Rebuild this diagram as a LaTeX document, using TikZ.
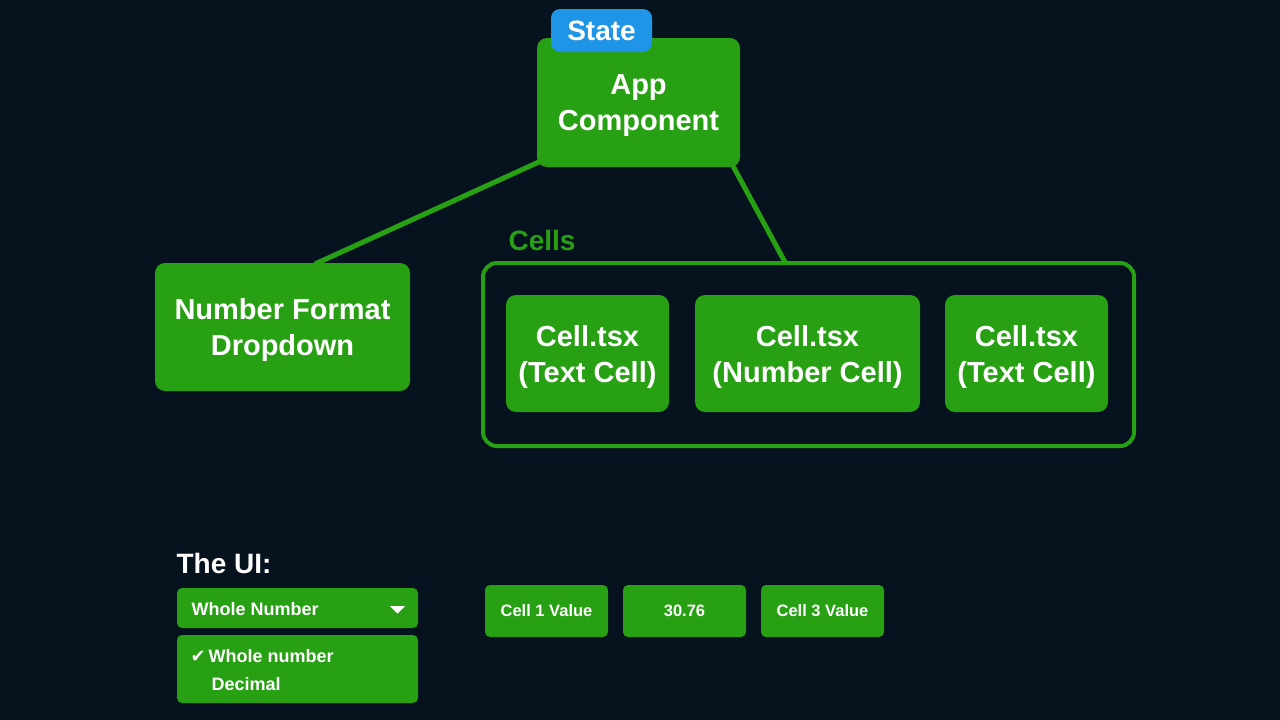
\documentclass[tikz,border=0pt]{standalone}
\usepackage{fontspec}
\setmainfont{Liberation Sans}
\newfontfamily\symfont{DejaVu Sans}
\usepackage{xcolor}
\usetikzlibrary{arrows.meta,positioning}
\definecolor{bgnavy}{HTML}{06131F}
\definecolor{boxgreen}{HTML}{27A013}
\definecolor{tagblue}{HTML}{1E95E6}

\begin{document}
\begin{tikzpicture}[x=1pt, y=-1pt,
        block/.style={fill=boxgreen, rounded corners=10pt, text=white,
            font=\bfseries\fontsize{29}{36}\selectfont, align=center, inner sep=0pt,
            text depth=-8pt},
        uibox/.style={fill=boxgreen, rounded corners=5pt, text=white,
            font=\bfseries\fontsize{16.5}{20}\selectfont, inner sep=0pt},
        uitext/.style={text=white, font=\bfseries\fontsize{18}{22}\selectfont, anchor=west},
        link/.style={draw=boxgreen, line width=5pt}]
        \fill[bgnavy] (0,0) rectangle (1280,720);
        \useasboundingbox (0,0) rectangle (1280,720);

        % the component tree
        \node[block, minimum width=203pt, minimum height=129pt] (app) at (638.5, 102.5)
            {App\\Component};
        \node[fill=tagblue, rounded corners=9pt, text=white, inner sep=0pt,
            minimum width=101pt, minimum height=43pt,
            font=\bfseries\fontsize{28}{32}\selectfont] (state) at (601.5, 30.5) {State};
        \node[block, minimum width=255pt, minimum height=128pt] (dropdown) at (282.5, 327)
            {Number Format\\Dropdown};

        \node[draw=boxgreen, line width=4pt, rounded corners=14pt,
            minimum width=651pt, minimum height=183pt] (cells) at (808.5, 354.5) {};
        \node[text=boxgreen, font=\bfseries\fontsize{28}{32}\selectfont, anchor=west]
            (cellslabel) at (505, 240) {Cells};
        \node[block, minimum width=163pt, minimum height=117pt] (textcellA) at (587.5, 353.5)
            {Cell.tsx\\(Text Cell)};
        \node[block, minimum width=225pt, minimum height=117pt] (numcell) at (807.5, 353.5)
            {Cell.tsx\\(Number Cell)};
        \node[block, minimum width=163pt, minimum height=117pt] (textcellB) at (1026.5, 353.5)
            {Cell.tsx\\(Text Cell)};

        \coordinate (appleft) at (541, 161);
        \coordinate (appright) at (733, 166);
        \coordinate (droptop) at (315, 264);
        \coordinate (celltop) at (786, 264);
        \draw[link] (appleft) -- (droptop);
        \draw[link] (appright) -- (celltop);

        % the UI mock-up
        \node[text=white, font=\bfseries\fontsize{28}{32}\selectfont, anchor=west]
            (uititle) at (173, 563) {The UI:};
        \node[uibox, minimum width=241pt, minimum height=40pt] (select) at (297.5, 608) {};
        \node[uitext] (selecttext) at (188, 609) {Whole Number};
        \fill[white] (390, 606) -- (405, 606) -- (397.5, 613.5) -- cycle;
        \node[uibox, minimum width=241pt, minimum height=68pt] (options) at (297.5, 669) {};
        \node[uitext] (optwhole) at (187, 656) {{\symfont ✔}\,Whole number};
        \node[uitext] (optdecimal) at (208, 684) {Decimal};

        \node[uibox, minimum width=123pt, minimum height=52pt] (valueA) at (546.5, 611) {Cell 1 Value};
        \node[uibox, minimum width=123pt, minimum height=52pt] (valueB) at (684.5, 611) {30.76};
        \node[uibox, minimum width=123pt, minimum height=52pt] (valueC) at (822.5, 611) {Cell 3 Value};
    \end{tikzpicture}
\end{document}
